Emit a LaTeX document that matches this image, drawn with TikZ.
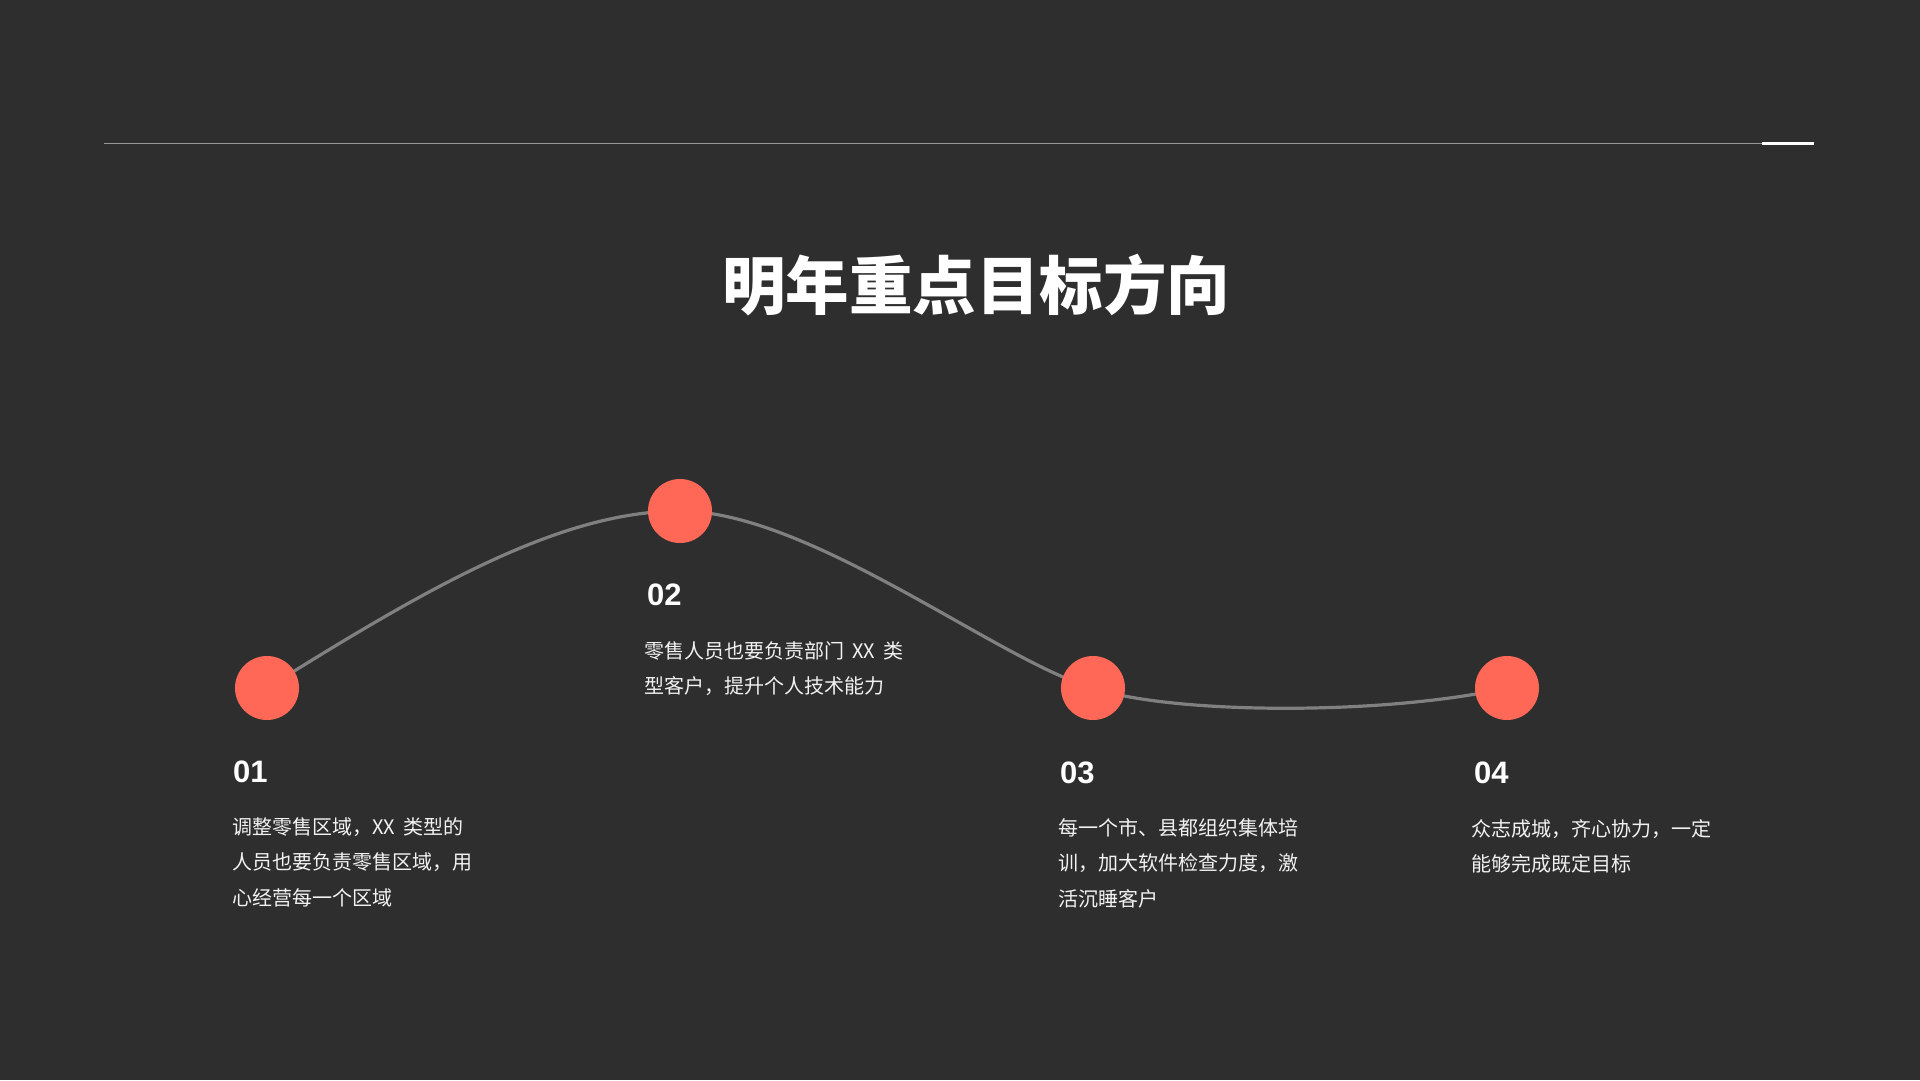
\documentclass[tikz,border=0pt]{standalone}
\usepackage{fontspec}
\setmainfont{Liberation Sans}
\newfontfamily\cjk{Noto Sans CJK SC}
\definecolor{bg}{RGB}{46,46,46}
\definecolor{coral}{RGB}{255,103,87}
\definecolor{curvegray}{RGB}{128,128,128}
\definecolor{rulegray}{RGB}{150,150,150}
\definecolor{bodytext}{RGB}{242,242,242}
\newcommand{\gap}{\hspace{8pt}}
\tikzset{
  dot/.style={circle,fill=coral,draw=none,minimum size=64pt,inner sep=0pt},
  numlabel/.style={anchor=west,inner sep=0pt,text=white,font=\fontsize{31}{31}\selectfont\bfseries},
  bodypara/.style={anchor=north west,inner sep=0pt,text=bodytext,align=left,font=\cjk\fontsize{20}{35.5}\selectfont},
  wave/.style={draw=curvegray,line width=3.2pt},
}
\begin{document}
\begin{tikzpicture}[x=1pt,y=-1pt]
\fill[bg] (0,0) rectangle (1920,1080);
\useasboundingbox (0,0) rectangle (1920,1080);
% top rule
\coordinate (r1) at (104,143);
\coordinate (r2) at (1762,143);
\coordinate (r3) at (1814,143);
\draw[rulegray,line width=1pt] (r1) -- (r2);
\draw[white,line width=3pt] (r2) -- (r3);
% title
\node[text=white,font=\cjk\bfseries\fontsize{63.5}{63.5}\selectfont,inner sep=0pt] (title) at (976,285) {明年重点目标方向};
% curve anchor points
\coordinate (p1) at (267,688);
\coordinate (p2) at (680,511);
\coordinate (p3) at (1093,688);
\coordinate (p4) at (1507,688);
\draw[wave] (p1) .. controls (427,588) and (560,511) .. (p2)
  .. controls (810,511) and (1000,662) .. (p3)
  .. controls (1170,714) and (1380,716) .. (p4);
% dots
\node[dot] (d1) at (p1) {};
\node[dot] (d2) at (p2) {};
\node[dot] (d3) at (p3) {};
\node[dot] (d4) at (p4) {};
% numbers
\node[numlabel] (n1) at (233,771.5) {01};
\node[numlabel] (n2) at (647,595) {02};
\node[numlabel] (n3) at (1060,772.5) {03};
\node[numlabel] (n4) at (1474,772.5) {04};
% paragraphs
\node[bodypara] (t1) at (232,817) {调整零售区域，XX\gap 类型的\\人员也要负责零售区域，用\\心经营每一个区域};
\node[bodypara] (t2) at (644,641) {零售人员也要负责部门\gap XX\gap 类\\型客户，提升个人技术能力};
\node[bodypara] (t3) at (1058,818) {每一个市、县都组织集体培\\训，加大软件检查力度，激\\活沉睡客户};
\node[bodypara] (t4) at (1471,819) {众志成城，齐心协力，一定\\能够完成既定目标};
\end{tikzpicture}
\end{document}
